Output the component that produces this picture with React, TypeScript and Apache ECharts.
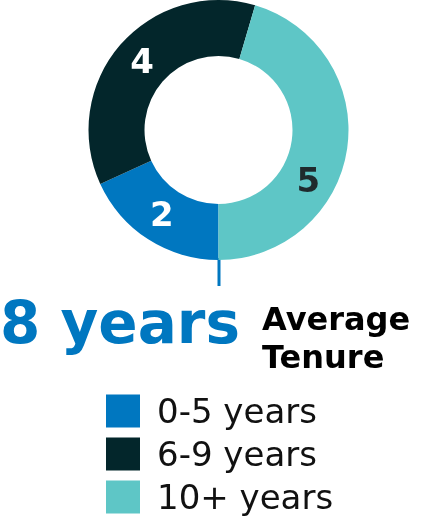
import React, { useEffect, useRef } from "react";
import * as echarts from "echarts";

const categories = ["0-5 years", "6-9 years", "10+ years"];
const values = [2, 4, 5];
const colors = ["#0077C0", "#03262B", "#5EC6C6"];
const labelColors = ["#FFFFFF", "#FFFFFF", "#1F2A2D"];
const headline = "8 years";
const subline = "Average\nTenure";

const FONT = "DejaVu Sans";

export default function App() {
  const ref = useRef<HTMLDivElement>(null);
  useEffect(() => {
    document.body.style.margin = "0";
    const chart = echarts.init(ref.current!, null, { renderer: "svg" });
    chart.setOption({
      animation: false,
      legend: {
        orient: "vertical",
        left: 101,
        top: 389,
        itemWidth: 34,
        itemHeight: 33,
        itemGap: 9,
        icon: "rect",
        selectedMode: false,
        data: categories,
        textStyle: {
          fontFamily: FONT,
          fontSize: 34,
          lineHeight: 33,
          color: "#111111",
          padding: [0, 0, 0, 12],
        },
      },
      series: [
        {
          type: "pie",
          center: [218.5, 130],
          radius: [74, 130],
          startAngle: 270,
          clockwise: true,
          avoidLabelOverlap: false,
          label: {
            show: true,
            position: "inside",
            formatter: "{c}",
            fontFamily: FONT,
            fontWeight: "bold",
            fontSize: 34,
          },
          labelLine: { show: false },
          labelLayout: (p: any) =>
            p.dataIndex === 2
              ? { dx: -14, dy: 35 }
              : p.dataIndex === 1
              ? { dx: 3 }
              : { dy: -4 },
          emphasis: { disabled: true },
          data: categories.map((name, i) => ({
            name,
            value: values[i],
            itemStyle: { color: colors[i] },
            label: { color: labelColors[i] },
          })),
        },
      ],
      graphic: [
        {
          type: "line",
          shape: { x1: 219, y1: 258, x2: 219, y2: 286 },
          style: { stroke: "#0077C0", lineWidth: 3 },
        },
        {
          type: "text",
          left: 0,
          top: 294,
          style: {
            text: headline,
            fontFamily: FONT,
            fontWeight: "bold",
            fontSize: 58,
            fill: "#0077C0",
          },
        },
        {
          type: "text",
          left: 262,
          top: 300,
          style: {
            text: subline,
            fontFamily: FONT,
            fontWeight: "bold",
            fontSize: 32,
            lineHeight: 38,
            fill: "#000000",
          },
        },
      ],
    });
    return () => chart.dispose();
  }, []);
  return (
    <div
      ref={ref}
      style={{ position: "fixed", left: 0, top: 0, width: 422, height: 522 }}
    />
  );
}
